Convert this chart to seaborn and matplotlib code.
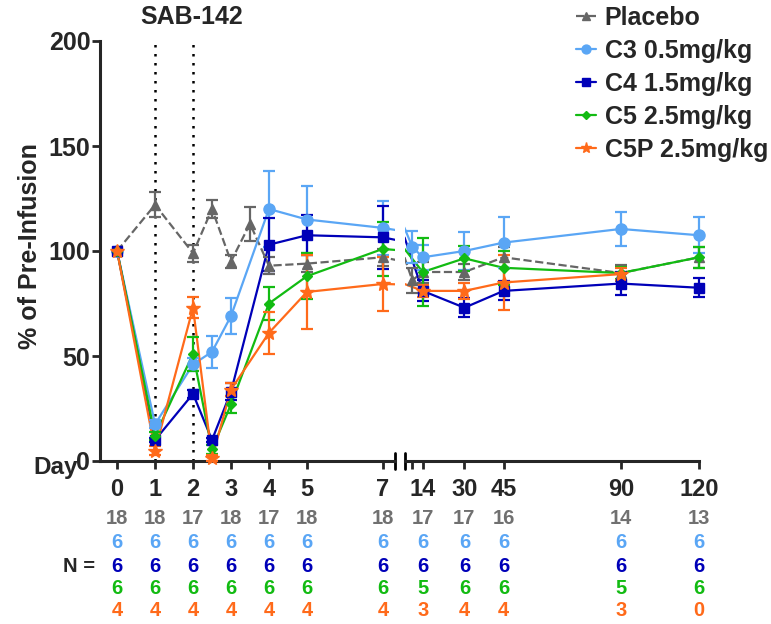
import matplotlib.pyplot as plt
import matplotlib.transforms as mtransforms
from matplotlib.lines import Line2D
import seaborn as sns

sns.set_style("ticks")
plt.rcParams['font.family'] = ['Liberation Sans', 'DejaVu Sans']
plt.rcParams['font.weight'] = 'bold'

# Mean % of pre-infusion and SEM per group
placebo_days = [0, 1, 2, 2.5, 3, 3.5, 4, 5, 7, 10, 14, 30, 45, 90, 120]
placebo_mean = [100, 122, 99, 120, 95, 113, 93, 94, 97, 86, 90, 90, 97, 89.5, 97]
placebo_sem = [0, 6, 4, 4.5, 3, 8, 4, 4, 4, 6, 5, 4, 5, 4, 5]

c3_days = [0, 1, 2, 2.5, 3, 4, 5, 7, 10, 14, 30, 45, 90, 120]
c3_mean = [100, 17.5, 46, 52, 69, 120, 115, 111, 102, 97, 100, 104, 110.5, 107.5]
c3_sem = [0, 2, 3, 7.5, 8.5, 18, 16, 13, 7.5, 6, 9, 12, 8, 8.5]

c4_days = [0, 1, 2, 2.5, 3, 4, 5, 7, 14, 30, 45, 90, 120]
c4_mean = [100, 10, 32, 10, 33, 103, 107.5, 106.5, 81, 73, 81, 84.5, 82.5]
c4_sem = [0, 1, 2, 1, 4, 12.5, 9.5, 15, 5, 4.5, 4.5, 5.5, 4.5]

c5_days = [0, 1, 2, 2.5, 3, 4, 5, 7, 14, 30, 45, 90, 120]
c5_mean = [100, 12, 51, 5.5, 27, 75, 88, 101, 90, 96.5, 92, 89.5, 97]
c5_sem = [0, 2, 8, 2, 4, 8, 11, 13, 16, 6, 8, 3, 5]

c5p_days = [0, 1, 2, 2.5, 3, 4, 5, 7, 14, 30, 45, 90]
c5p_mean = [100, 5, 73, 1.5, 34, 61, 80.5, 84.3, 81, 81, 85, 89]
c5p_sem = [0, 2, 5, 1.5, 3, 10, 17.5, 13, 3, 4, 13, 3]

# N per group at each labelled day
n_days = [0, 1, 2, 3, 4, 5, 7, 14, 30, 45, 90, 120]
n_placebo = [18, 18, 17, 18, 17, 18, 18, 17, 17, 16, 14, 13]
n_c3 = [6, 6, 6, 6, 6, 6, 6, 6, 6, 6, 6, 6]
n_c4 = [6, 6, 6, 6, 6, 6, 6, 6, 6, 6, 6, 6]
n_c5 = [6, 6, 6, 6, 6, 6, 6, 5, 6, 6, 5, 6]
n_c5p = [4, 4, 4, 4, 4, 4, 4, 3, 4, 4, 3, 0]

groups = [
    ("Placebo", placebo_days, placebo_mean, placebo_sem, "#666666", "^", "--", 7),
    ("C3 0.5mg/kg", c3_days, c3_mean, c3_sem, "#5aa6f5", "o", "-", 8),
    ("C4 1.5mg/kg", c4_days, c4_mean, c4_sem, "#0000b8", "s", "-", 7),
    ("C5 2.5mg/kg", c5_days, c5_mean, c5_sem, "#12bb12", "D", "-", 5),
    ("C5P 2.5mg/kg", c5p_days, c5p_mean, c5p_sem, "#ff6a1a", "*", "-", 10),
]

W, H = 771, 624
fig = plt.figure(figsize=(W / 100, H / 100), dpi=100)
ax1 = fig.add_axes([100 / W, 1 - 461 / H, (395 - 100) / W, 420 / H])
ax2 = fig.add_axes([405 / W, 1 - 461 / H, (699 - 405) / W, 420 / H], sharey=ax1)

for ax, lo, hi in [(ax1, -0.45, 7.32), (ax2, 7.2, 120)]:
    for name, d, m, s, c, mk, ls, ms in groups:
        sns.lineplot(x=d, y=m, ax=ax, color=c, linestyle=ls, lw=1.6,
                     sort=False, legend=False, zorder=3)
        keep = [i for i, x in enumerate(d) if lo <= x <= hi]
        cont = ax.errorbar([d[i] for i in keep], [m[i] for i in keep],
                           yerr=[s[i] for i in keep], fmt=mk, ms=ms,
                           color=c, ecolor=c, elinewidth=1.6, capsize=4.5,
                           capthick=1.6, linestyle='none', zorder=4)
        for art in [cont[0], *cont[1], *cont[2]]:
            art.set_clip_on(False)
    ax.set_xlim(lo, hi)
    ax.tick_params(axis='x', length=6, width=2, labelsize=17, pad=6)
    ax.set_xlabel("")
    ax.set_ylabel("")
    for sp in ['top', 'right']:
        ax.spines[sp].set_visible(False)
    for sp in ['left', 'bottom']:
        ax.spines[sp].set_linewidth(2.2)

ax1.set_ylim(0, 200)
ax1.set_yticks([0, 50, 100, 150, 200])
ax1.tick_params(axis='y', length=6, width=2, labelsize=18, pad=1)
ax1.set_xticks([0, 1, 2, 3, 4, 5, 7])
ax2.set_xticks([10, 14, 30, 45, 90, 120])
ax2.set_xticklabels(['', '14', '30', '45', '90', '120'])
ax2.spines['left'].set_visible(False)
ax2.tick_params(axis='y', left=False, labelleft=False)

# SAB-142 dosing days
ax1.vlines([1, 2], 0, 201, colors='black', linestyles=(0, (1, 2.6)), lw=1.8, zorder=1)

# axis break marks
for ax, xb in [(ax1, 1), (ax2, 0)]:
    ax.plot([xb, xb], [-0.018, 0.018], transform=ax.transAxes, color='black',
            lw=2, clip_on=False)

# N table under the axis
row_y = [519, 542, 566, 588, 611]
row_counts = [n_placebo, n_c3, n_c4, n_c5, n_c5p]
row_colors = ["#707070", "#5aa6f5", "#0000b8", "#12bb12", "#ff6a1a"]
for yy, counts, col in zip(row_y, row_counts, row_colors):
    for day, n in zip(n_days, counts):
        ax = ax1 if day <= 7 else ax2
        tr = mtransforms.blended_transform_factory(ax.transData, fig.transFigure)
        ax.text(day, 1 - yy / H, str(n), transform=tr, ha='center', va='center',
                color=col, fontsize=14.5, fontweight='bold', clip_on=False)

fig.text(79 / W, 1 - 566 / H, "N =", ha='center', va='center', fontsize=14.5)
fig.text(78 / W, 1 - 474 / H, "Day", ha='right', va='baseline', fontsize=17.5)
fig.text(30 / W, 1 - 246 / H, "% of Pre-Infusion", rotation=90, ha='center',
         va='center', fontsize=18)
fig.text(192 / W, 1 - 17.5 / H, "SAB-142", ha='center', va='center', fontsize=18)

handles = [Line2D([], [], color=c, marker=mk, linestyle=ls, lw=1.6, ms=ms * 0.8)
           for name, d, m, s, c, mk, ls, ms in groups]
labels = [g[0] for g in groups]
fig.legend(handles, labels, loc='upper left', bbox_to_anchor=(576 / W, 1 - 6 / H),
           frameon=False, prop={'weight': 'bold', 'size': 18}, handlelength=0.8,
           handletextpad=0.35, labelspacing=0.36, borderpad=0, borderaxespad=0)

fig.savefig("out.png", dpi=100)
